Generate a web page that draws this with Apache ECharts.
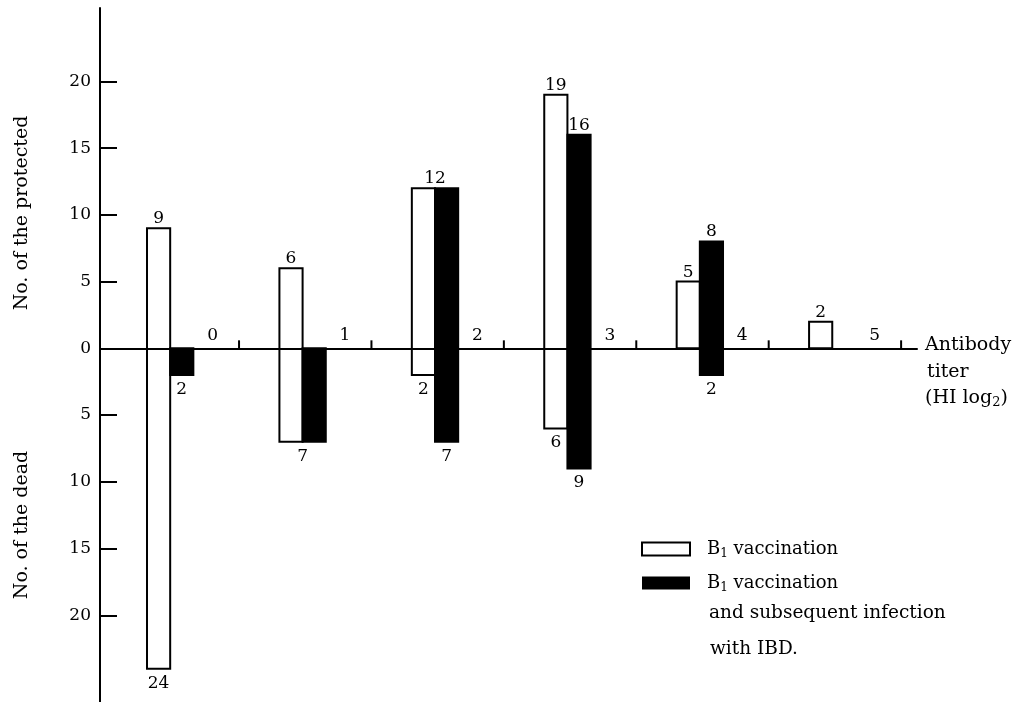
<!DOCTYPE html>
<html><head><meta charset="utf-8">
<script src="https://cdn.jsdelivr.net/npm/echarts@6/dist/echarts.min.js"></script>
<style>html,body{margin:0;padding:0;background:#fff}#c{width:1017px;height:702px}</style>
</head><body><div id="c"></div>
<script>
// ---- data ----
const titers = [0, 1, 2, 3, 4, 5];
const titerLabels = ['0', '1', '2', '3', '4', '5'];
const b1Protected = [9, 6, 12, 19, 5, 2];
const b1Dead = [24, 7, 2, 6, 0, 0];
const ibdProtected = [0, 0, 12, 16, 8, 0];
const ibdDead = [2, 7, 7, 9, 2, 0];
const yTickValues = [-20, -15, -10, -5, 0, 5, 10, 15, 20];

// ---- layout constants ----
const FONT = 'DejaVu Serif';
const GROUP_OFFSET = 0.53;
const BAR_W = 0.175;
const TICK_OFFSET = 1.05;
const LABEL_OFFSET = 0.85;

const chart = echarts.init(document.getElementById('c'), null, {renderer: 'canvas'});

function barRender(kind) {
  return function (params, api) {
    const x = api.value(0) + GROUP_OFFSET;
    const up = api.value(1), down = api.value(2);
    const otherUp = api.value(3), otherDown = api.value(4);
    if (up === 0 && down === 0) return null;
    const x0 = kind === 'white' ? x - BAR_W : x;
    const x1 = kind === 'white' ? x : x + BAR_W;
    const a = api.coord([x0, up]);
    const b = api.coord([x1, -down]);
    const children = [{
      type: 'rect',
      shape: {x: a[0], y: a[1], width: b[0] - a[0], height: b[1] - a[1]},
      style: {fill: kind === 'white' ? '#fff' : '#000', stroke: '#000', lineWidth: 2}
    }];
    const cx = (a[0] + b[0]) / 2;
    const bx = api.coord([x, 0])[0];
    const lab = (txt, px, py, va) => children.push({
      type: 'text', x: px, y: py,
      style: {text: String(txt), font: '17px "' + FONT + '"', fill: '#000', align: 'center', verticalAlign: va}
    });
    if (up > 0) {
      if (up === otherUp) { if (kind === 'white') lab(up, bx, a[1] - 1, 'bottom'); }
      else lab(up, cx, a[1] - 1, 'bottom');
    }
    if (down > 0) {
      if (down === otherDown) { if (kind === 'white') lab(down, bx, b[1] + 6, 'top'); }
      else lab(down, cx, b[1] + 6, 'top');
    }
    return {type: 'group', children};
  };
}

function tickRender(params, api) {
  const t = api.value(0);
  const p = api.coord([t + TICK_OFFSET, 0]);
  const l = api.coord([t + LABEL_OFFSET, 0]);
  return {
    type: 'group',
    children: [
      {type: 'line', shape: {x1: p[0], y1: p[1], x2: p[0], y2: p[1] - 8}, style: {stroke: '#000', lineWidth: 2}},
      {type: 'text', x: l[0], y: l[1] - 4, style: {text: titerLabels[params.dataIndex], font: '17px "' + FONT + '"', fill: '#000', align: 'center', verticalAlign: 'bottom'}}
    ]
  };
}

const richLegend = {
  b: {fontFamily: FONT, fontSize: 18, color: '#000', padding: [0, 0, 0, 12]},
  a: {fontFamily: FONT, fontSize: 18, color: '#000'},
  s: {fontFamily: FONT, fontSize: 12, color: '#000', padding: [9, 0, 0, 0]}
};
const richAxis = {
  a: {fontFamily: FONT, fontSize: 19, color: '#000'},
  s: {fontFamily: FONT, fontSize: 13, color: '#000', padding: [9, 0, 0, 0]}
};

const option = {
  animation: false,
  backgroundColor: '#fff',
  grid: {left: 100, right: 100, top: 8, bottom: 0, containLabel: false},
  xAxis: {
    type: 'value', min: 0, max: 6.17, z: 10,
    axisLine: {show: true, onZero: true, lineStyle: {color: '#000', width: 2}},
    axisTick: {show: false}, axisLabel: {show: false}, splitLine: {show: false}
  },
  yAxis: {
    type: 'value', min: -26.5, max: 25.5,
    axisLine: {show: true, lineStyle: {color: '#000', width: 2}},
    axisTick: {show: true, inside: true, length: 17, customValues: yTickValues, lineStyle: {color: '#000', width: 2}},
    axisLabel: {show: true, margin: 9, customValues: yTickValues, formatter: v => String(Math.abs(v)),
      fontFamily: FONT, fontSize: 17, color: '#000'},
    splitLine: {show: false}
  },
  legend: {
    orient: 'vertical', left: 641, top: 538, padding: 0, itemWidth: 48, itemHeight: 13, itemGap: 12,
    selectedMode: false, icon: 'rect',
    data: [
      {name: 'B1', itemStyle: {color: '#fff', borderColor: '#000', borderWidth: 2}},
      {name: 'B1IBD', itemStyle: {color: '#000', borderColor: '#000', borderWidth: 0}}
    ],
    formatter: () => '{b|B}{s|1}{a| vaccination}',
    textStyle: {fontFamily: FONT, fontSize: 18, color: '#000', lineHeight: 22, rich: richLegend}
  },
  graphic: [
    {type: 'text', x: 709, y: 613, style: {text: 'and subsequent infection', font: '18.5px "' + FONT + '"', fill: '#000', verticalAlign: 'middle'}},
    {type: 'text', x: 710, y: 649, style: {text: 'with IBD.', font: '18.5px "' + FONT + '"', fill: '#000', verticalAlign: 'middle'}},
    {type: 'text', x: 925, y: 345, style: {text: 'Antibody', font: '19px "' + FONT + '"', fill: '#000', verticalAlign: 'middle'}},
    {type: 'text', x: 927, y: 372, style: {text: 'titer', font: '19px "' + FONT + '"', fill: '#000', verticalAlign: 'middle'}},
    {type: 'text', x: 925, y: 398, style: {text: '{a|(HI log}{s|2}{a|)}', fill: '#000', verticalAlign: 'middle', rich: richAxis}},
    {type: 'text', x: 22, y: 213, rotation: Math.PI / 2, style: {text: 'No. of the protected', font: '19px "' + FONT + '"', fill: '#000', align: 'center', verticalAlign: 'middle'}},
    {type: 'text', x: 22, y: 525, rotation: Math.PI / 2, style: {text: 'No. of the dead', font: '19px "' + FONT + '"', fill: '#000', align: 'center', verticalAlign: 'middle'}}
  ],
  series: [
    {
      name: 'B1', type: 'custom', renderItem: barRender('white'),
      itemStyle: {color: '#fff', borderColor: '#000'},
      encode: {x: 0, y: [1, 2]},
      data: titers.map((t, i) => [t, b1Protected[i], b1Dead[i], ibdProtected[i], ibdDead[i]])
    },
    {
      name: 'B1IBD', type: 'custom', renderItem: barRender('black'),
      itemStyle: {color: '#000'},
      encode: {x: 0, y: [1, 2]},
      data: titers.map((t, i) => [t, ibdProtected[i], ibdDead[i], b1Protected[i], b1Dead[i]])
    },
    {
      name: 'ticks', type: 'custom', renderItem: tickRender, silent: true,
      encode: {x: 0}, data: titers.map(t => [t])
    }
  ]
};
chart.setOption(option);
</script>
</body></html>
